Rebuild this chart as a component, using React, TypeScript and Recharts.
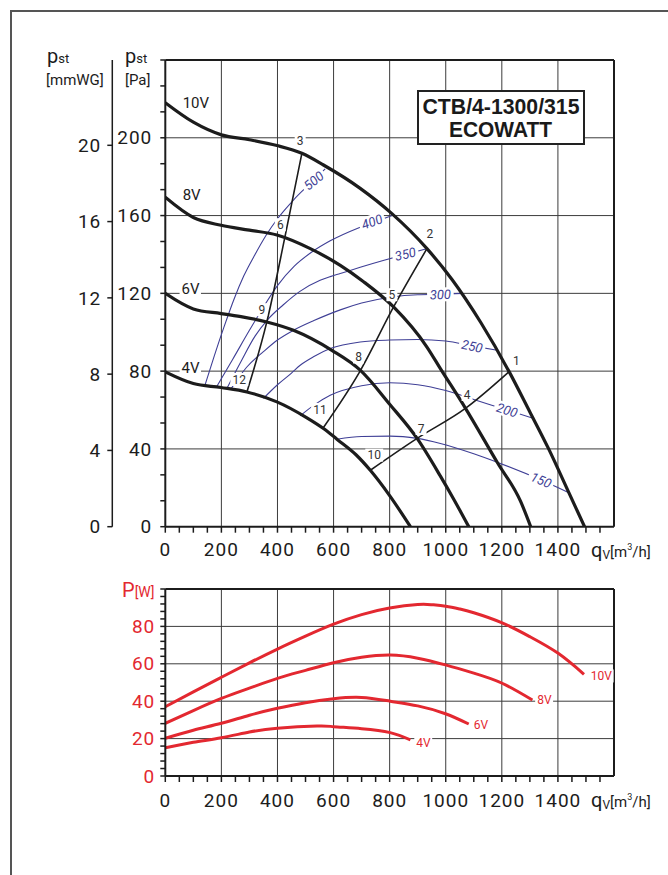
import React from "react";
import { LineChart, Line, XAxis, YAxis, ReferenceLine, ReferenceDot } from "recharts";

type Pt = [number, number];

// fan curves: static pressure [Pa] over airflow [m3/h]
const fan10V: Pt[] = [[0, 218], [100, 208], [200, 201.5], [300, 199], [398, 196], [487, 192], [564, 186], [695, 174], [808, 161], [933, 143], [1023, 127], [1125, 105], [1225, 80], [1300, 59], [1367, 40], [1439, 17.5], [1495, 0]];
const fan8V: Pt[] = [[0, 169.4], [100, 159], [199, 155], [300, 152.5], [398, 150], [517, 143], [624, 134.4], [707, 126], [814, 113], [933, 92.4], [981, 81.3], [1070, 61], [1184, 33], [1267, 13], [1303, 0]];
const fan6V: Pt[] = [[0, 120], [100, 112], [199, 109.6], [279, 107.8], [362, 105.3], [457, 101], [594, 90.7], [695, 80.5], [800, 63], [898, 45.4], [981, 26], [1029, 14], [1082, 0]];
const fan4V: Pt[] = [[0, 79.6], [100, 73.6], [199, 71.6], [291, 69.3], [398, 64.2], [505, 56], [564, 50.5], [612, 45], [680, 37], [731, 29], [800, 16], [874, 0]];

// system curves through the numbered points
const sysA: Pt[] = [[731, 29], [898, 45.4], [1070, 60.8], [1225, 79.6]];
const sysB: Pt[] = [[564, 51], [693, 79.6], [814, 113], [933, 143]];
const sysC: Pt[] = [[291, 69.3], [362, 105.3], [427, 149.3], [487, 192]];

// thin blue iso-lines
const iso500: Pt[] = [[142, 73], [175, 88], [210, 103], [245, 117], [280, 129], [320, 140], [360, 150], [398, 158], [457, 168], [520, 177], [570, 184]];
const iso400: Pt[] = [[183, 72], [240, 86], [300, 101], [350, 113], [400, 124], [460, 134], [520, 141], [588, 147], [695, 154], [760, 157.5], [808, 160]];
const iso350: Pt[] = [[219, 71], [270, 85], [320, 98], [362, 106], [420, 114], [480, 121], [552, 126.7], [588, 128.6], [624, 130.2], [695, 133.4], [780, 137], [850, 139.8], [933, 143]];
const iso300: Pt[] = [[235, 71], [290, 82], [350, 90], [400, 96], [457, 101], [530, 106], [624, 111.5], [700, 115], [802, 118], [900, 119.3], [981, 119.5], [1059, 120]];
const iso250: Pt[] = [[350, 66], [400, 73], [450, 79], [481, 83], [530, 87.5], [588, 91.6], [695, 95], [800, 96], [900, 96.3], [1000, 95.5], [1094, 93], [1184, 90.7]];
const iso200: Pt[] = [[481, 57], [530, 62.5], [588, 67.6], [700, 72.5], [800, 74], [900, 73], [1000, 70], [1100, 65.4], [1219, 60], [1314, 55.6]];
const iso150: Pt[] = [[612, 45], [700, 46.4], [802, 46.6], [898, 45.4], [981, 42.8], [1100, 37.5], [1195, 32.5], [1340, 24], [1439, 17.5]];

const isoLabels: [string, number, number][] = [["500", 529, 178], ["400", 737, 156.8], ["350", 856, 140.2], ["300", 981, 119.4], ["250", 1094, 92.8], ["200", 1219, 60], ["150", 1340, 24]];
const isoAngles = [-40, -20, -13, -2, 12, 18, 23];

const pointLabels: [string, number, number][] = [["1", 1252, 85.6], ["2", 943, 150.6], ["3", 481, 198.6], ["4", 1076, 68], ["5", 808, 119.3], ["6", 410, 155.3], ["7", 912, 50.5], ["8", 689, 87.3], ["9", 344, 111.6], ["10", 745, 36.8], ["11", 552, 60.3], ["12", 264, 75.7]];
const voltLabels: [string, number, number][] = [["10V", 62, 218], ["8V", 62, 171], ["6V", 58, 122.4], ["4V", 58, 81.8]];

// power consumption [W]
const pow10V: Pt[] = [[0, 37], [100, 45], [200, 52.8], [300, 60.5], [400, 67.9], [500, 74.8], [600, 81.2], [700, 86.3], [800, 89.8], [900, 91.7], [950, 91.6], [1000, 90.8], [1050, 89.3], [1100, 87.3], [1201, 81.9], [1300, 74.5], [1401, 65.6], [1493, 54.4]];
const pow8V: Pt[] = [[0, 28.2], [100, 35], [200, 41.5], [300, 47], [400, 52.2], [500, 56.5], [600, 60.6], [700, 63.5], [802, 64.7], [900, 63], [999, 59.4], [1100, 55], [1201, 49.6], [1309, 40.6]];
const pow6V: Pt[] = [[0, 20.2], [100, 24.5], [200, 28.2], [300, 32.5], [400, 36.2], [500, 39.2], [600, 41.3], [700, 42], [802, 40], [900, 37.5], [999, 33.3], [1082, 27.8]];
const pow4V: Pt[] = [[0, 15.1], [100, 18], [200, 20.5], [300, 23.5], [400, 25.5], [541, 26.7], [600, 26.4], [700, 25.3], [802, 23.2], [874, 19.3]];
const powLabels: [string, number, number][] = [["10V", 1517, 53.5], ["8V", 1326, 40.6], ["6V", 1100, 27.3], ["4V", 895, 17.8]];

const qvLabels = [0, 200, 400, 600, 800, 1000, 1200, 1400];
const paLabels = [0, 40, 80, 120, 160, 200];
const mmLabels = [0, 4, 8, 12, 16, 20];
const wLabels = [0, 20, 40, 60, 80];

const FONT = "Roboto, 'DejaVu Sans', sans-serif";
const INK = "#1c1c1c";
const GRID = "#3c3c3c";
const BLUE = "#3f3f96";
const RED = "#e32830";

const qvTicks = Array.from({ length: 32 }, (_, i) => i * 50);
const paTicks = Array.from({ length: 19 }, (_, i) => (i * 40) / 3);
const wTicks = Array.from({ length: 26 }, (_, i) => i * 4);

const toRows = (pts: Pt[]) => pts.map(([q, v]) => ({ q, v }));

function makeTick(labels: number[], anchor: "middle" | "end", color: string) {
  return (props: any) => {
    const { x, y, payload } = props;
    const v = Math.round(payload.value * 1000) / 1000;
    if (!labels.includes(v)) return <g />;
    return (
      <text x={x} y={y} dy={anchor === "middle" ? "0.71em" : "0.35em"} textAnchor={anchor} fill={color}
        fontFamily={FONT} fontSize={19} letterSpacing={1}>
        {v}
      </text>
    );
  };
}

function tag(text: string, size: number, color: string, angle = 0, anchor: "middle" | "start" = "middle", italic = false) {
  return (p: any) => {
    const w = text.length * size * 0.58 + 4;
    const h = size + 1;
    const x0 = anchor === "start" ? -2 : -w / 2;
    return (
      <g transform={`translate(${p.cx},${p.cy}) rotate(${angle})`}>
        <rect x={x0} y={-h / 2} width={w} height={h} fill="#fff" />
        <text x={0} y={0} dy="0.36em" textAnchor={anchor} fill={color} fontFamily={FONT} fontSize={size}
          fontStyle={italic ? "italic" : "normal"}>
          {text}
        </text>
      </g>
    );
  };
}

const fans = [fan10V, fan8V, fan6V, fan4V];
const isos = [iso500, iso400, iso350, iso300, iso250, iso200, iso150];
const systems = [sysA, sysB, sysC];
const powers = [pow10V, pow8V, pow6V, pow4V];

// y axis ids: "a" (Pa) sits next to the plot, "b" (mmWG) outside it
function PressureChart() {
  return (
    <LineChart width={668} height={575} margin={{ top: 60, right: 54, bottom: 18.3, left: 45.3 }}>
      <XAxis xAxisId="q" type="number" dataKey="q" domain={[0, 1600]} ticks={qvTicks} interval={0}
        tick={makeTick(qvLabels, "middle", INK)} tickSize={6} tickMargin={10} height={30}
        axisLine={{ stroke: INK, strokeWidth: 2 }} tickLine={{ stroke: INK, strokeWidth: 1.5 }} allowDataOverflow />
      <YAxis yAxisId="a" type="number" domain={[0, 240]} ticks={paTicks} interval={0} width={53}
        tick={makeTick(paLabels, "end", INK)} tickSize={5} tickMargin={8}
        axisLine={{ stroke: INK, strokeWidth: 2 }} tickLine={{ stroke: INK, strokeWidth: 1.5 }} allowDataOverflow />
      <YAxis yAxisId="b" type="number" domain={[0, 240 / 9.80665]} ticks={mmLabels} interval={0} width={67}
        tick={makeTick(mmLabels, "end", INK)} tickSize={5} tickMargin={6}
        axisLine={{ stroke: INK, strokeWidth: 1.5 }} tickLine={{ stroke: INK, strokeWidth: 1.5 }} allowDataOverflow />

      {qvLabels.slice(1).map((q) => (
        <ReferenceLine key={"gx" + q} xAxisId="q" yAxisId="a" x={q} stroke={GRID} strokeWidth={1} />
      ))}
      {paLabels.slice(1).map((p) => (
        <ReferenceLine key={"gy" + p} xAxisId="q" yAxisId="a" y={p} stroke={GRID} strokeWidth={1} />
      ))}
      <ReferenceLine xAxisId="q" yAxisId="a" x={1600} stroke={INK} strokeWidth={2} />
      <ReferenceLine xAxisId="q" yAxisId="a" y={240} stroke={INK} strokeWidth={2} />

      {isos.map((pts, i) => (
        <Line key={"iso" + i} xAxisId="q" yAxisId="a" data={toRows(pts)} dataKey="v" type="monotone"
          stroke={BLUE} strokeWidth={1.1} dot={false} isAnimationActive={false} />
      ))}
      {systems.map((pts, i) => (
        <Line key={"sys" + i} xAxisId="q" yAxisId="a" data={toRows(pts)} dataKey="v" type="monotone"
          stroke={INK} strokeWidth={1.6} dot={false} isAnimationActive={false} />
      ))}
      {fans.map((pts, i) => (
        <Line key={"fan" + i} xAxisId="q" yAxisId="a" data={toRows(pts)} dataKey="v" type="monotone"
          stroke={INK} strokeWidth={3.2} dot={false} isAnimationActive={false} />
      ))}

      {isoLabels.map(([t, q, p], i) => (
        <ReferenceDot key={"il" + t} xAxisId="q" yAxisId="a" x={q} y={p} shape={tag(t, 13, BLUE, isoAngles[i], "middle", true)} />
      ))}
      {pointLabels.map(([t, q, p]) => (
        <ReferenceDot key={"pl" + t} xAxisId="q" yAxisId="a" x={q} y={p} shape={tag(t, 12, "#333")} />
      ))}
      {voltLabels.map(([t, q, p]) => (
        <ReferenceDot key={"vl" + t} xAxisId="q" yAxisId="a" x={q} y={p} shape={tag(t, 15, INK, 0, "start")} />
      ))}
    </LineChart>
  );
}

function PowerChart() {
  return (
    <LineChart width={668} height={280} margin={{ top: 29, right: 54, bottom: 34, left: 105.3 }}>
      <XAxis xAxisId="q" type="number" dataKey="q" domain={[0, 1600]} ticks={qvTicks} interval={0}
        tick={makeTick(qvLabels, "middle", INK)} tickSize={6} tickMargin={12} height={30}
        axisLine={{ stroke: INK, strokeWidth: 2 }} tickLine={{ stroke: INK, strokeWidth: 1.5 }} allowDataOverflow />
      <YAxis yAxisId="w" type="number" domain={[0, 100]} ticks={wTicks} interval={0} width={60}
        tick={makeTick(wLabels, "end", RED)} tickSize={5} tickMargin={5}
        axisLine={{ stroke: INK, strokeWidth: 2 }} tickLine={{ stroke: INK, strokeWidth: 1.5 }} allowDataOverflow />

      {qvLabels.slice(1).map((q) => (
        <ReferenceLine key={"gx" + q} xAxisId="q" yAxisId="w" x={q} stroke={GRID} strokeWidth={1} />
      ))}
      {wLabels.slice(1).map((w) => (
        <ReferenceLine key={"gy" + w} xAxisId="q" yAxisId="w" y={w} stroke={GRID} strokeWidth={1} />
      ))}
      <ReferenceLine xAxisId="q" yAxisId="w" x={1600} stroke={INK} strokeWidth={2} />
      <ReferenceLine xAxisId="q" yAxisId="w" y={100} stroke={INK} strokeWidth={2} />

      {powers.map((pts, i) => (
        <Line key={"pw" + i} xAxisId="q" yAxisId="w" data={toRows(pts)} dataKey="v" type="natural"
          stroke={RED} strokeWidth={3} dot={false} isAnimationActive={false} />
      ))}
      {powLabels.map(([t, q, w]) => (
        <ReferenceDot key={"wl" + t} xAxisId="q" yAxisId="w" x={q} y={w} shape={tag(t, 12, RED, 0, "start")} />
      ))}
    </LineChart>
  );
}

function Titles() {
  const t = { fontFamily: FONT, fill: INK };
  return (
    <svg width={668} height={875} style={{ position: "absolute", left: 0, top: 0, pointerEvents: "none" }}>
      <text x={47} y={63} {...t} fontSize={20}>p<tspan fontSize={13}>st</tspan></text>
      <text x={46} y={85} {...t} fontSize={15}>[mmWG]</text>
      <text x={125} y={63} {...t} fontSize={20}>p<tspan fontSize={13}>st</tspan></text>
      <text x={125} y={85} {...t} fontSize={15}>[Pa]</text>

      <text x={591} y={557} {...t} fontSize={20}>q<tspan fontSize={12} dy={2}>V</tspan><tspan fontSize={15} dy={-2}>[m</tspan><tspan fontSize={9} dy={-7}>3</tspan><tspan fontSize={15} dy={7}>/h]</tspan></text>
      <text x={591} y={807} {...t} fontSize={20}>q<tspan fontSize={12} dy={2}>V</tspan><tspan fontSize={15} dy={-2}>[m</tspan><tspan fontSize={9} dy={-7}>3</tspan><tspan fontSize={15} dy={7}>/h]</tspan></text>

      <text x={122} y={597} fontFamily={FONT} fill={RED} fontSize={20}>P<tspan fontSize={14}>[W]</tspan></text>

      <rect x={418} y={91} width={166} height={53} fill="#fff" stroke="#222" strokeWidth={2} />
      <text x={422.5} y={113.5} fontFamily="'Liberation Sans', Arial, sans-serif" fontWeight="bold" fontSize={22}
        fill="#1a1a1a" textLength={157} lengthAdjust="spacingAndGlyphs">CTB/4-1300/315</text>
      <text x={449} y={137} fontFamily="'Liberation Sans', Arial, sans-serif" fontWeight="bold" fontSize={22}
        fill="#1a1a1a" textLength={103} lengthAdjust="spacingAndGlyphs">ECOWATT</text>
    </svg>
  );
}

export default function App() {
  return (
    <div style={{ position: "fixed", left: 0, top: 0, width: 668, height: 875, background: "#fff", overflow: "hidden" }}>
      <div style={{ position: "absolute", left: 10, top: 10, width: 700, height: 900, borderLeft: "2px solid #555", borderTop: "2px solid #555" }} />
      <div style={{ position: "absolute", left: 0, top: 0 }}>
        <PressureChart />
      </div>
      <div style={{ position: "absolute", left: 0, top: 560 }}>
        <PowerChart />
      </div>
      <Titles />
    </div>
  );
}
